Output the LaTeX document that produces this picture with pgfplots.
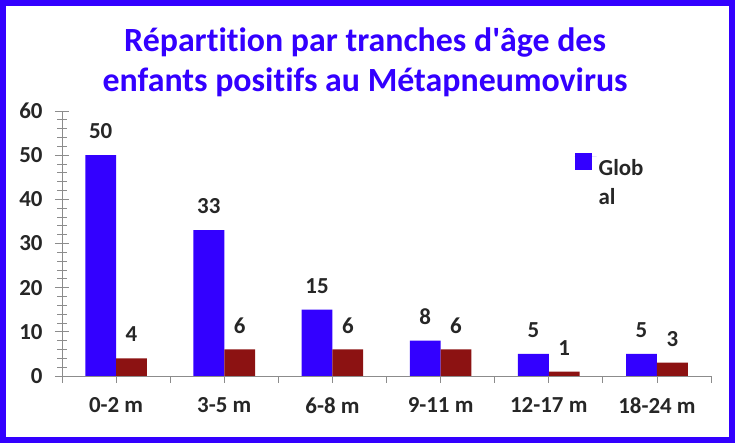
\documentclass[border=0pt]{standalone}
\usepackage{pgfplots}
\pgfplotsset{compat=1.18}
\usepackage{fontspec}
\setmainfont{Carlito}[Ligatures=NoCommon]

\definecolor{barblue}{HTML}{3300FF}
\definecolor{barred}{HTML}{8C1212}
\definecolor{axisgray}{HTML}{8C8C8C}
\definecolor{txt}{HTML}{262626}

\begin{document}
\begin{tikzpicture}[x=1bp,y=1bp]
\useasboundingbox (0,0) rectangle (738,445);
\draw[barblue, line width=6bp] (3,5) rectangle (732,442);

\begin{axis}[
    at={(62bp,69bp)}, anchor=south west,
    scale only axis,
    width=649bp, height=265bp,
    ybar=0pt, bar width=0.285,
    xmin=-0.5, xmax=5.5,
    ymin=0, ymax=60,
    axis x line*=bottom, axis y line*=left,
    axis line style={axisgray, line width=0.8bp},
    every tick/.style={axisgray, line width=0.8bp},
    tick align=center,
    major tick length=14bp, minor tick length=9bp,
    xtick={0,...,5},
    xticklabels={0-2 m, 3-5 m, 6-8 m, 9-11 m, 12-17 m, 18-24 m},
    x tick style={draw=none},
    extra x ticks={-0.5,0,...,5.5},
    extra x tick labels={},
    extra x tick style={tick align=outside, major tick length=7bp, x tick style={draw=axisgray}},
    ytick={0,10,...,60},
    minor y tick num=4,
    ticklabel style={font=\bfseries\fontsize{23}{27}\selectfont, text=txt},
    /pgf/number format/assume math mode=true,
    yticklabel style={xshift=-9bp},
    xticklabel style={yshift=-11bp},
    title={Répartition par tranches d\textquotesingle âge des\\enfants positifs au Métapneumovirus},
    title style={font=\bfseries\fontsize{34}{40}\selectfont, text=barblue, align=center,
        at={(0.467,1.03)}, anchor=south, inner sep=0pt},
    nodes near coords,
    every node near coord/.append style={font=\bfseries\fontsize{23}{27}\selectfont, text=txt, anchor=center, yshift=24bp},
    legend style={draw=none, fill=none, at={(0.785,0.85)}, anchor=north west,
        font=\bfseries\fontsize{23}{29}\selectfont, text=txt,
        cells={align=left, anchor=north west}},
    legend image code/.code={\path (0bp,0bp) -- (22bp,0bp);
        \fill[#1] (0bp,-13bp) rectangle (17bp,4bp);},
]
\addplot[fill=barblue, draw=none] coordinates {(0,50) (1,33) (2,15) (3,8) (4,5) (5,5)};
\addlegendentry{Glob\\al}
\addplot[fill=barred, draw=none] coordinates {(0,4) (1,6) (2,6) (3,6) (4,1) (5,3)};
\end{axis}
\end{tikzpicture}
\end{document}
